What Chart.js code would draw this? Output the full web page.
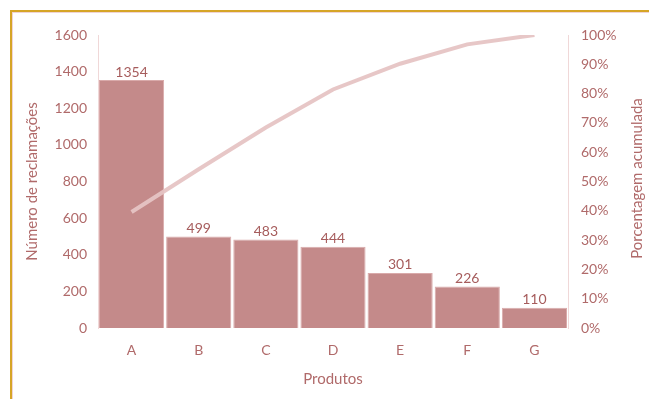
<!DOCTYPE html>
<html>
<head>
<meta charset="utf-8">
<script src="https://cdn.jsdelivr.net/npm/chart.js@4"></script>
<style>
    body { margin: 0; background: #fff; }
    #wrap { position: relative; width: 649px; height: 399px; overflow: hidden; }
    #frame { position: absolute; left: 10px; top: 10px; width: 700px; height: 500px;
             border-left: 2px solid #d6a526; border-top: 2px solid #d6a526; }
    #inner { position: absolute; left: 12px; top: 12px; width: 700px; height: 500px;
             border-left: 1px solid #f0d4d4; border-top: 1px solid #f0d4d4; }
    canvas { position: absolute; left: 0; top: 0; }
</style>
</head>
<body>
<div id="wrap">
    <div id="frame"></div>
    <div id="inner"></div>
    <canvas id="pareto" width="649" height="399"></canvas>
</div>
<script>
const produtos = ['A', 'B', 'C', 'D', 'E', 'F', 'G'];
const reclamacoes = [1354, 499, 483, 444, 301, 226, 110];
const acumulada = [39.6, 54.2, 68.4, 81.4, 90.2, 96.8, 100];
const countTicks = [0, 200, 400, 600, 800, 1000, 1200, 1400, 1600];
const pctTicks = [0, 10, 20, 30, 40, 50, 60, 70, 80, 90, 100];

const TEXT = '#b06a6a';
const FAMILY = 'Lato, "Open Sans", sans-serif';
const FONT = { family: FAMILY, size: 14 };
const TITLE_FONT = { family: FAMILY, size: 15 };

// value labels above the bars
const barLabels = {
    id: 'barLabels',
    afterDatasetsDraw(chart) {
        const ctx = chart.ctx;
        const meta = chart.getDatasetMeta(1);
        ctx.save();
        ctx.font = '14px ' + FAMILY;
        ctx.fillStyle = '#a65c5c';
        ctx.textAlign = 'center';
        ctx.textBaseline = 'bottom';
        meta.data.forEach((bar, i) => {
            ctx.fillText(String(reclamacoes[i]), bar.x, bar.y - 1);
        });
        ctx.restore();
    }
};

// right title reads bottom to top, like the left one
const rightTitle = {
    id: 'rightTitle',
    afterDraw(chart) {
        const ctx = chart.ctx;
        const area = chart.chartArea;
        ctx.save();
        ctx.font = '15px ' + FAMILY;
        ctx.fillStyle = TEXT;
        ctx.textAlign = 'center';
        ctx.textBaseline = 'middle';
        ctx.translate(637, (area.top + area.bottom) / 2 - 3);
        ctx.rotate(-Math.PI / 2);
        ctx.fillText('Porcentagem acumulada', 0, 0);
        ctx.restore();
    }
};

new Chart(document.getElementById('pareto'), {
    data: {
        labels: produtos,
        datasets: [{
            type: 'line',
            label: 'Porcentagem acumulada',
            data: acumulada,
            yAxisID: 'y1',
            borderColor: 'rgba(230, 196, 196, 0.95)',
            borderWidth: 4,
            pointRadius: 0,
            tension: 0,
            order: 0
        }, {
            type: 'bar',
            label: 'Número de reclamações',
            data: reclamacoes,
            yAxisID: 'y',
            backgroundColor: '#c48a8a',
            borderColor: '#d9aaaa',
            borderWidth: 1,
            barPercentage: 1,
            categoryPercentage: 0.97,
            order: 1
        }]
    },
    options: {
        responsive: false,
        animation: false,
        layout: { padding: { left: 20, right: 0, top: 35, bottom: 11 } },
        plugins: { legend: { display: false }, tooltip: { enabled: false } },
        scales: {
            x: {
                grid: { display: false },
                border: { display: false },
                ticks: { color: TEXT, font: FONT, padding: 6 },
                title: { display: true, text: 'Produtos', color: TEXT, font: TITLE_FONT, padding: 0 },
                afterFit(scale) { scale.height = 60; }
            },
            y: {
                position: 'left',
                min: 0, max: 1600,
                afterBuildTicks(scale) { scale.ticks = countTicks.map(v => ({ value: v })); },
                grid: { display: false },
                border: { display: true, color: '#f0d8d8' },
                ticks: { color: TEXT, font: FONT, padding: 3, callback: v => String(v) },
                title: { display: true, text: 'Número de reclamações', color: TEXT, font: TITLE_FONT, padding: { top: 3 } },
                afterFit(scale) { scale.width = 78; }
            },
            y1: {
                position: 'right',
                min: 0, max: 100,
                afterBuildTicks(scale) { scale.ticks = pctTicks.map(v => ({ value: v })); },
                grid: { display: false },
                border: { display: true, color: '#f0d8d8' },
                ticks: { color: TEXT, font: FONT, padding: 5, callback: v => v + '%' },
                afterFit(scale) { scale.width = 81; }
            }
        }
    },
    plugins: [barLabels, rightTitle]
});
</script>
</body>
</html>
